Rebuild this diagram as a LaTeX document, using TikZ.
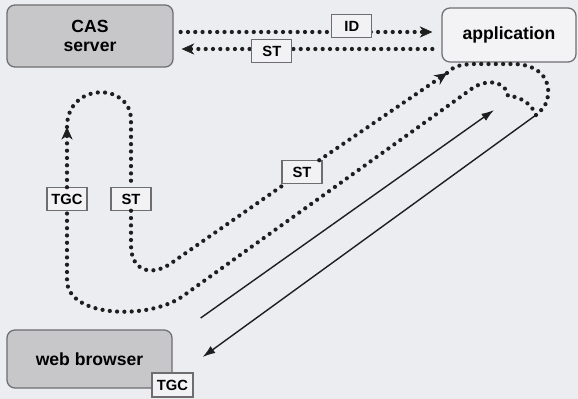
\documentclass[tikz,border=0pt]{standalone}
\usepackage{fontspec}
\setsansfont{Liberation Sans}
\usepackage{xcolor}
\usetikzlibrary{arrows.meta,calc}

\definecolor{bgcol}{HTML}{ECEDF1}
\definecolor{boxgray}{HTML}{C7C7C9}
\definecolor{appfill}{HTML}{F3F3F5}
\definecolor{edgegray}{HTML}{6E6E70}
\definecolor{tagfill}{HTML}{F2F2F4}
\definecolor{dotcol}{HTML}{1E1E1E}

\begin{document}
\begin{tikzpicture}[x=0.025cm, y=-0.025cm,
  every node/.style={font=\sffamily\bfseries, align=center},
  host/.style={draw=edgegray, line width=0.9pt, rounded corners=0.2cm, inner sep=0pt,
    font=\sffamily\bfseries\fontsize{12.5}{14}\selectfont},
  tag/.style={draw=edgegray, fill=tagfill, solid, line width=0.8pt, inner sep=0pt,
    minimum width=1.0cm, minimum height=0.56cm,
    font=\sffamily\bfseries\fontsize{10.5}{12}\selectfont},
  redirect/.style={draw=dotcol, line width=3pt, line cap=round, dash pattern=on 0pt off 5.2pt},
  hop/.style={-{Stealth[length=9pt, width=8pt, line width=0.4pt]}},
  request/.style={draw=dotcol, line width=1pt, -{Latex[length=9pt, width=6pt]}}]
  \useasboundingbox (0,0) rectangle (578,399);
  \fill[bgcol] (0,0) rectangle (578,399);

  \node[host, fill=boxgray, minimum width=4.15cm, minimum height=1.55cm] (cas) at (90,36) {CAS\\server};
  \node[host, fill=appfill, minimum width=3.35cm, minimum height=1.35cm] (app) at (509,35) {application};
  \node[host, fill=boxgray, minimum width=4.125cm, minimum height=1.45cm] (web) at (89.5,359) {web browser};
  \node[tag, minimum width=1.025cm, minimum height=0.6cm] (cookie) at (172.5,385) {TGC};

  \draw[redirect, hop] ($(cas.east)+(7,-4)$) -- node[tag, pos=0.68, yshift=0.15cm] (id) {ID} ($(app.west)+(-9,-3)$);
  \draw[redirect, hop] ($(app.west)+(-9,14)$) -- node[tag, pos=0.64, yshift=-0.05cm] (st1) {ST} ($(cas.east)+(8,13)$);

  \coordinate (hub) at (536,115);
  \coordinate (casin) at (67,127);
  \coordinate (appin) at (447,73);
  \coordinate (appout) at (494,110);
  \coordinate (webout) at ($(web.east)+(28,-41)$);
  \coordinate (webin) at ($(web.east)+(30,-2)$);

  \node[tag] (tgc) at (67,199) {TGC};
  \node[tag] (st2) at (131,199) {ST};
  \node[tag] (st3) at (302,172) {ST};

  \draw[redirect, hop] (hub) .. controls (530,100) and (515,96) .. (508,96)
    .. controls (505,78) and (482,80) .. (470,90) -- (183,296)
    .. controls (150,320) and (67,318) .. (67,280) -- (tgc) -- (casin);
  \draw[redirect, hop] (casin) .. controls (67,82) and (131,82) .. (131,120) -- (st2) -- (131,245)
    .. controls (131,272) and (152,276) .. (170,264) -- (st3) -- (appin);
  \draw[redirect] (appin) .. controls (455,66) .. (470,64) -- (515,64)
    .. controls (540,65) and (550,80) .. (548,95) .. controls (547,105) and (542,110) .. (hub);

  \draw[request] (webout) -- (appout);
  \draw[request] (hub) -- (webin);
\end{tikzpicture}
\end{document}
